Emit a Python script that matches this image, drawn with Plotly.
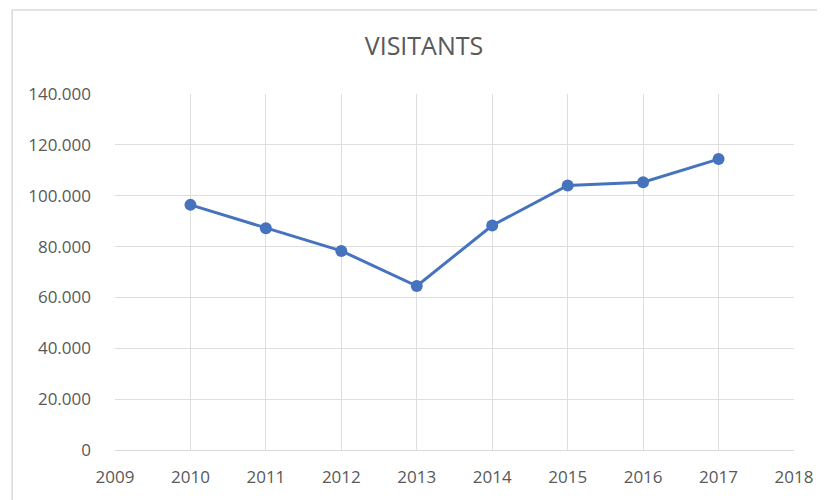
import plotly.graph_objects as go

years = [2010, 2011, 2012, 2013, 2014, 2015, 2016, 2017]
visitants = [96400, 87200, 78300, 64500, 88300, 104000, 105300, 114400]
title_text = "VISITANTS"
x_ticks = list(range(2009, 2019))
y_ticks = list(range(0, 140001, 20000))

fig = go.Figure()
fig.add_trace(go.Scatter(
    x=years, y=visitants, mode="lines+markers",
    line=dict(color="#4673bd", width=3),
    marker=dict(color="#4673bd", size=12),
    hoverinfo="x+y", showlegend=False,
))

font_family = "Open Sans, Noto Sans, Liberation Sans, sans-serif"
# page has an 8px body margin; figure is sized to fit inside the window
W, H = 817, 492
L, R, T, B = 107, 30, 86, 46
pw, ph = W - L - R, H - T - B

fig.update_layout(
    width=W, height=H,
    margin=dict(l=L, r=R, t=T, b=B, pad=0),
    paper_bgcolor="white", plot_bgcolor="white",
    separators=",.",
    title=dict(text=title_text, x=416 / W, xanchor="center",
               y=1 - 38 / H, yanchor="middle",
               font=dict(family=font_family, size=25, color="#595959")),
    font=dict(family=font_family, size=17, color="#595959"),
    xaxis=dict(range=[2009, 2018], tickmode="array", tickvals=x_ticks,
               showgrid=True, gridcolor="#dedede", gridwidth=1,
               zeroline=False, showline=True, linecolor="#d9d9d9", linewidth=1,
               mirror=False, ticks="", ticklabelstandoff=12,
               tickfont=dict(size=17, color="#595959")),
    yaxis=dict(range=[0, 140000], tickmode="array", tickvals=y_ticks,
               tickformat=",d", showgrid=True, gridcolor="#dedede", gridwidth=1,
               zeroline=False, showline=False, ticks="", ticklabelstandoff=23,
               tickfont=dict(size=17, color="#595959")),
    shapes=[
        dict(type="rect", xref="paper", yref="paper",
             x0=(4 - L) / pw, x1=(W + 10 - L) / pw,
             y0=-(B + 10) / ph, y1=(H - 1 - B) / ph,
             line=dict(color="#d9d9d9", width=1.5), fillcolor="rgba(0,0,0,0)",
             layer="below"),
    ],
)

fig.write_html("out.html")
